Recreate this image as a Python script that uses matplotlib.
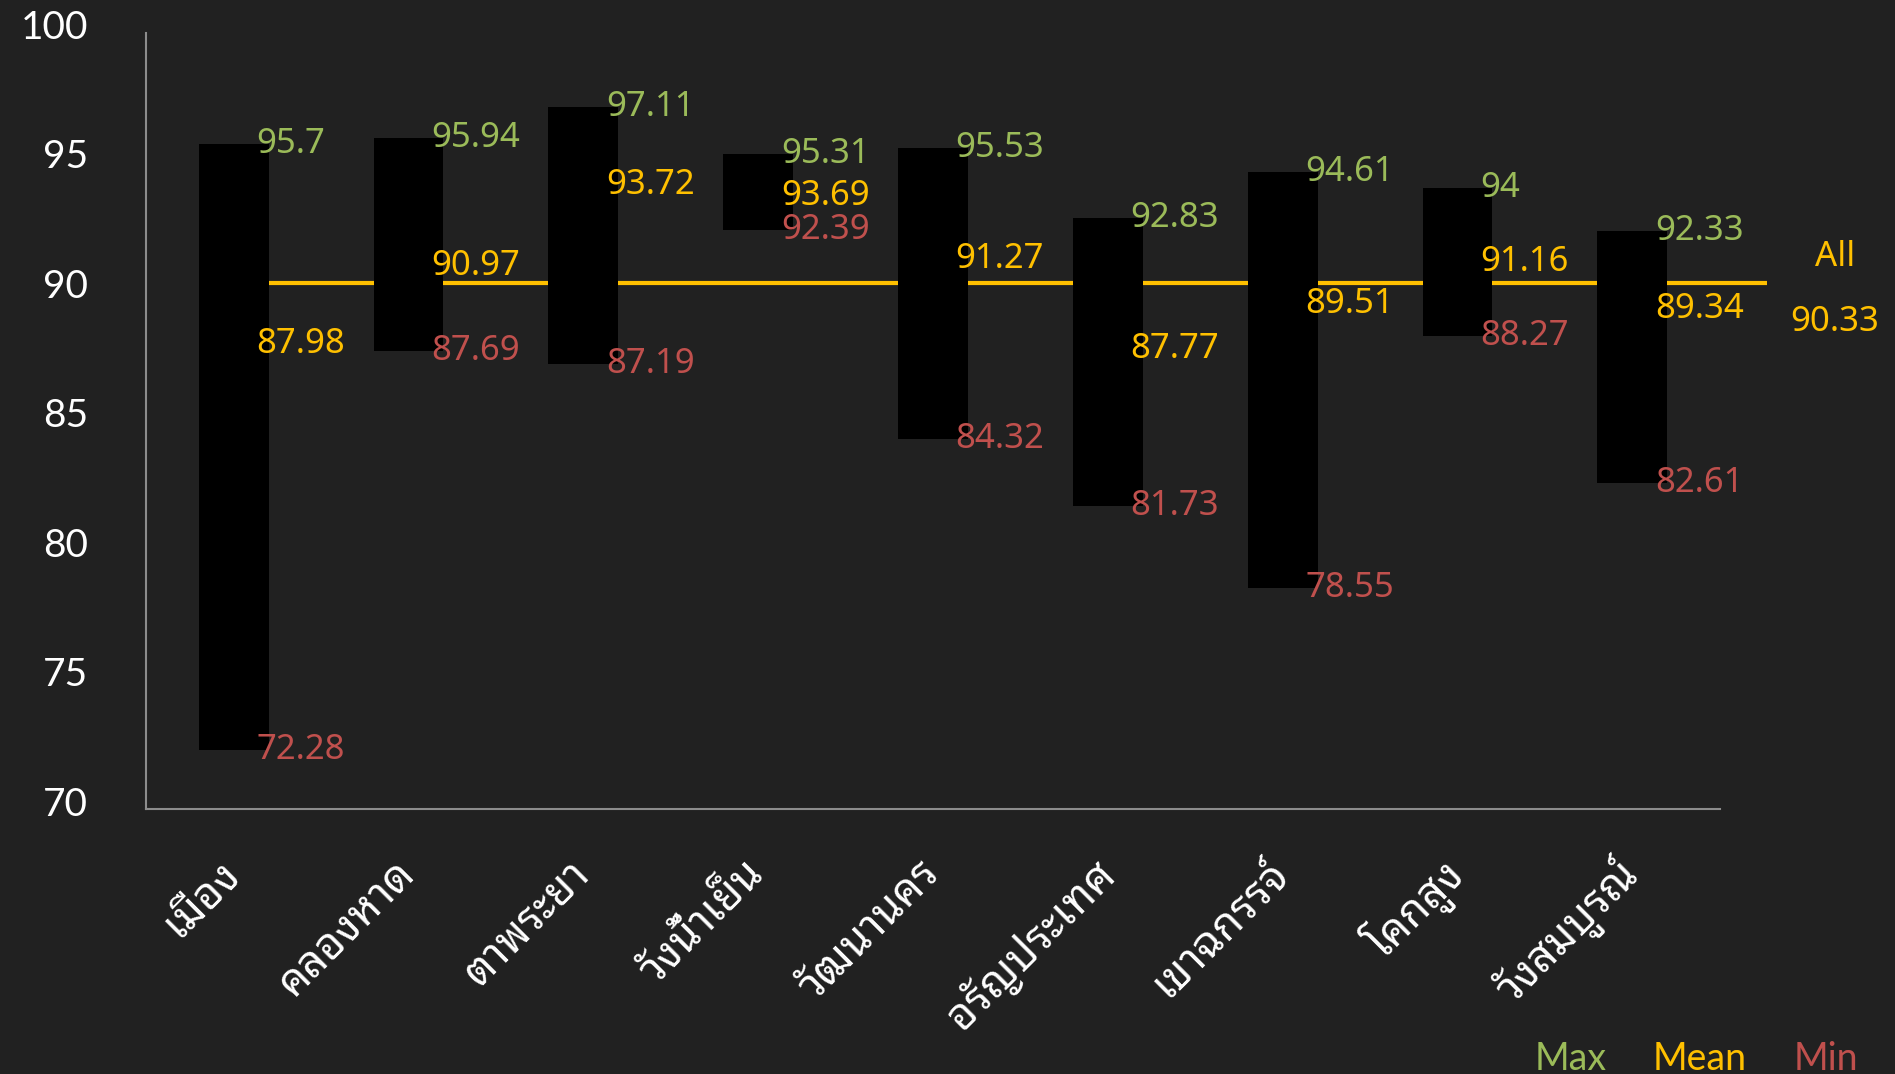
import matplotlib
matplotlib.use("Agg")
import matplotlib.pyplot as plt
from matplotlib.transforms import ScaledTranslation

categories = ['เมือง', 'คลองหาด', 'ตาพระยา', 'วังน้ำเย็น', 'วัฒนานคร',
              'อรัญประเทศ', 'เขาฉกรรจ์', 'โคกสูง', 'วังสมบูรณ์']
max_vals = [95.7, 95.94, 97.11, 95.31, 95.53, 92.83, 94.61, 94, 92.33]
mean_vals = [87.98, 90.97, 93.72, 93.69, 91.27, 87.77, 89.51, 91.16, 89.34]
min_vals = [72.28, 87.69, 87.19, 92.39, 84.32, 81.73, 78.55, 88.27, 82.61]
all_mean = 90.33
yticks = [70, 75, 80, 85, 90, 95, 100]
legend_labels = ['Max', 'Mean', 'Min']

NUM_FONT = ['Noto Sans', 'DejaVu Sans']
THAI_FONT = ['Noto Sans Thai Looped', 'Noto Sans', 'DejaVu Sans']
TICK_FONT = ['Lato', 'Noto Sans', 'DejaVu Sans']
plt.rcParams['font.family'] = NUM_FONT

BG = '#212121'
GREEN = '#9BBB59'
YELLOW = '#FFC000'
RED = '#C0504D'

fig = plt.figure(figsize=(18.95, 10.74), dpi=100, facecolor=BG)
ax = fig.add_axes([0.0772, 0.2463, 0.8303, 0.7233], facecolor=BG)

x = list(range(len(categories)))
heights = [mx - mn for mx, mn in zip(max_vals, min_vals)]
ax.bar(x, heights, bottom=min_vals, width=0.4, color='black', zorder=3)
ax.plot([0, 8.77], [all_mean, all_mean], color=YELLOW, lw=3, zorder=2,
        clip_on=False, solid_capstyle='butt')

nudge = {2: 0.4}  # mean label of ตาพระยา sits higher in the original
for i in x:
    ax.text(i + 0.13, max_vals[i], f"{max_vals[i]:g}", color=GREEN, fontsize=25,
            ha='left', va='center', zorder=4)
    ax.text(i + 0.13, mean_vals[i] + nudge.get(i, 0), f"{mean_vals[i]:g}", color=YELLOW,
            fontsize=25, ha='left', va='center', zorder=4)
    ax.text(i + 0.13, min_vals[i], f"{min_vals[i]:g}", color=RED, fontsize=25,
            ha='left', va='center', zorder=4)

ax.text(9.16, all_mean + 1.0, 'All', color=YELLOW, fontsize=25, ha='center', va='center',
        clip_on=False)
ax.text(9.16, all_mean - 1.5, f"{all_mean:g}", color=YELLOW, fontsize=25, ha='center',
        va='center', clip_on=False)

ax.set_xlim(-0.5, 8.5)
ax.set_ylim(70, 100)
ax.set_yticks(yticks)
ax.set_yticklabels([str(t) for t in yticks], color='white', fontsize=28, family=TICK_FONT)
ax.tick_params(axis='y', length=0, pad=42)
lift = ScaledTranslation(0, 6 / 72, fig.dpi_scale_trans)
for lab in ax.get_yticklabels():
    lab.set_transform(lab.get_transform() + lift)
ax.set_xticks(x)
ax.set_xticklabels(categories, rotation=45, ha='right', va='center', rotation_mode='anchor',
                   color='white', fontsize=31, family=THAI_FONT)
ax.tick_params(axis='x', length=0, pad=42)
for s in ['top', 'right']:
    ax.spines[s].set_visible(False)
for s in ['left', 'bottom']:
    ax.spines[s].set_color('#8c8c8c')
    ax.spines[s].set_linewidth(1.5)

legend_x = [0.829, 0.8967, 0.9636]
for lx, lab, col in zip(legend_x, legend_labels, [GREEN, YELLOW, RED]):
    fig.text(lx, 0.014, lab, color=col, fontsize=27, ha='center', va='center',
             family=TICK_FONT)

fig.savefig('out.png', dpi=100, facecolor=BG)
